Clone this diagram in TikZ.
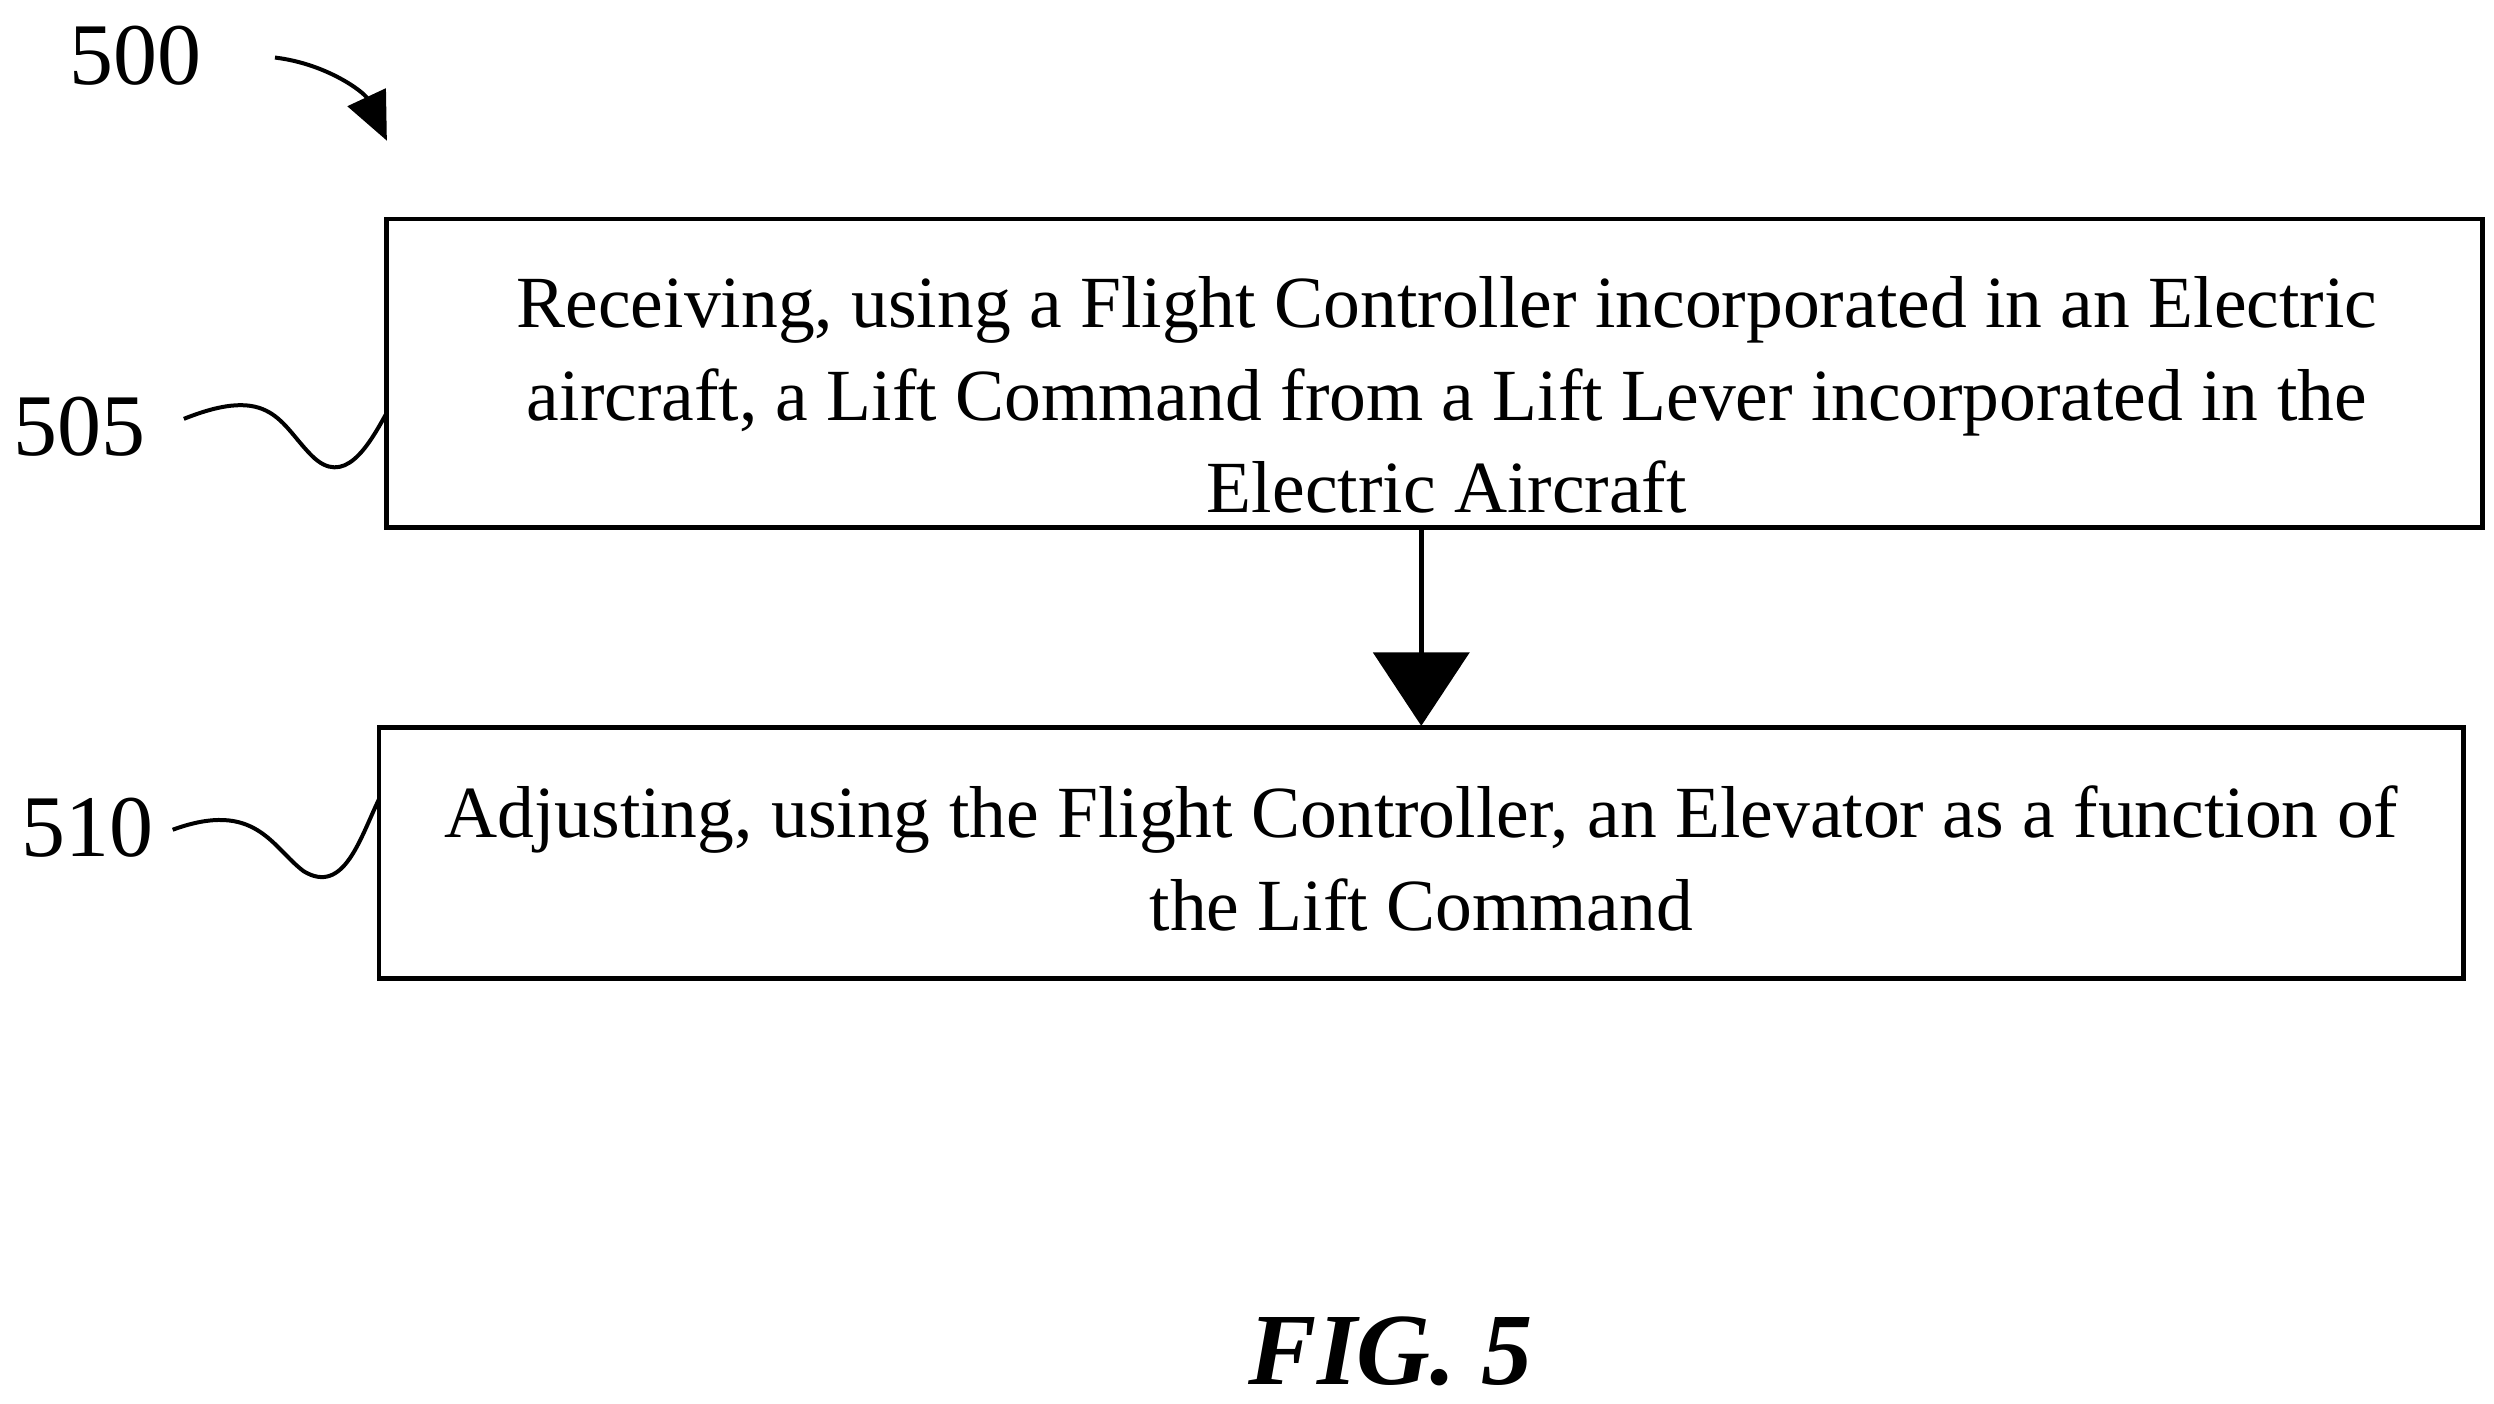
\documentclass[tikz,border=0pt]{standalone}
\usepackage{fontspec}
\setmainfont{Liberation Serif}
\usetikzlibrary{arrows.meta}
\begin{document}
\begin{tikzpicture}[x=1pt,y=-1pt,
  box/.style={draw,line width=3pt},
  txt/.style={font=\fontsize{46}{58}\selectfont,align=center},
  lbl/.style={font=\fontsize{55}{60}\selectfont},
  sq/.style={line width=2.5pt}]
\useasboundingbox (0,0) rectangle (1560,878);
\draw[box] (242,137) rectangle (1553,330);
\draw[box] (237,455) rectangle (1541,612);
\coordinate (b1s) at (889,331);
\coordinate (b2n) at (889,454);
\node[txt] (t1) at (905,247) {Receiving, using a Flight Controller incorporated in an Electric\\aircraft, a Lift Command from a Lift Lever incorporated in the\\Electric Aircraft};
\node[txt] (t2) at (889,537) {Adjusting, using the Flight Controller, an Elevator as a function of\\the Lift Command};
\draw[line width=3pt,-{Triangle[length=46pt,width=60pt]}] (b1s) -- (b2n);
\node[lbl] (n500) at (85,35) {500};
\node[lbl] (n505) at (50,267) {505};
\node[lbl] (n510) at (55,518) {510};
\coordinate (a0) at (172,36);
\coordinate (a1) at (242,88);
\draw[line width=2.5pt,-{Triangle[length=30pt,width=26pt]}] (a0) .. controls (205,40) and (228,58) .. (a1);
\coordinate (s5a) at (115,262);
\coordinate (s5b) at (242,258);
\draw[sq] (s5a) .. controls (170,240) and (175,265) .. (195,285) .. controls (215,305) and (230,280) .. (s5b);
\coordinate (s1a) at (108,519);
\coordinate (s1b) at (237,500);
\draw[sq] (s1a) .. controls (160,500) and (170,530) .. (190,545) .. controls (215,560) and (225,525) .. (s1b);
\node[font=\fontsize{64}{70}\selectfont\bfseries\itshape] (fig) at (870,845) {FIG. 5};
\end{tikzpicture}
\end{document}
